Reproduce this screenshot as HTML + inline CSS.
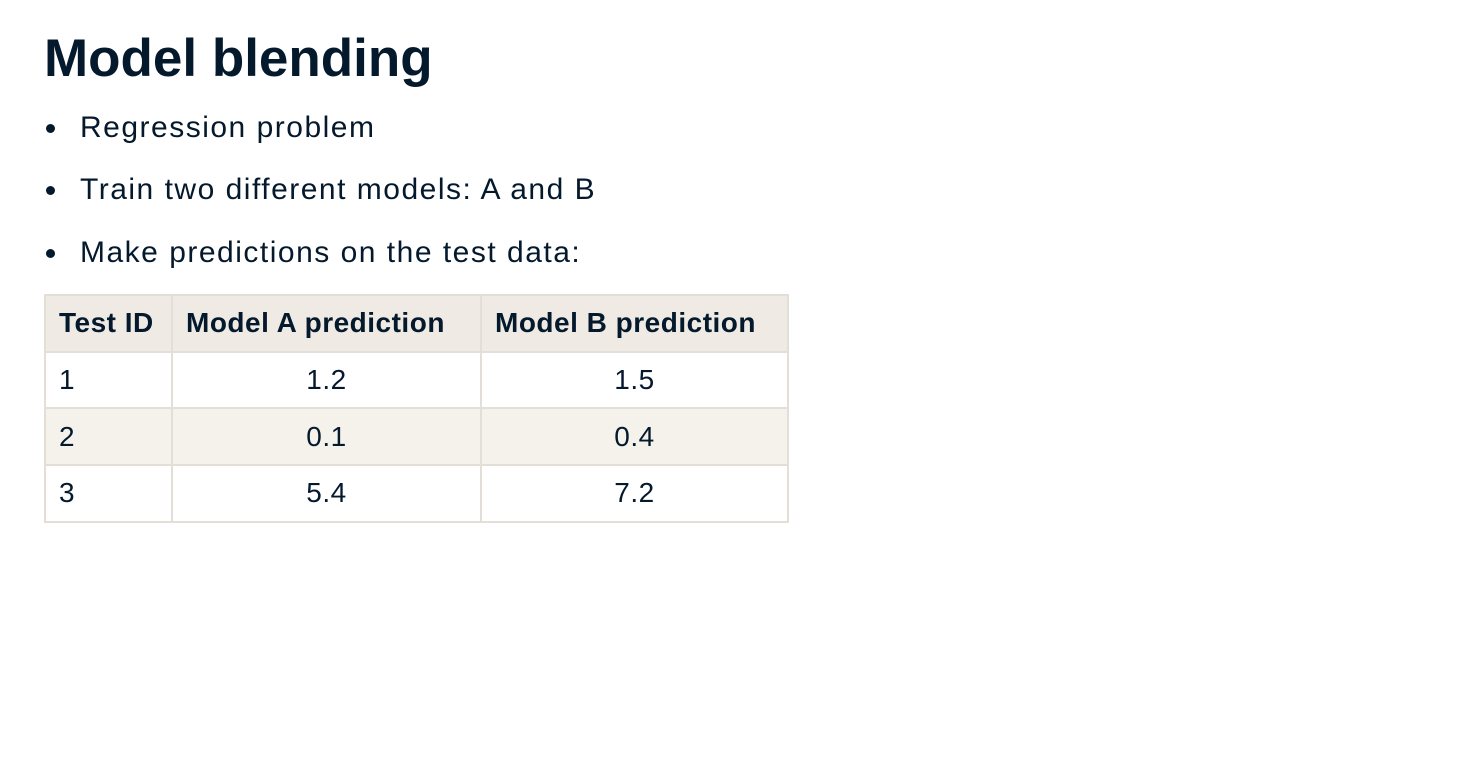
<!DOCTYPE html>
<html><head><meta charset="utf-8"><style>
body{margin:0;width:1480px;height:760px;background:#fff;font-family:"Liberation Sans",sans-serif;color:#05192D;position:relative;overflow:hidden}
h1{position:absolute;left:44px;top:28px;margin:0;font-size:53px;font-weight:bold;letter-spacing:0px}
.b{position:absolute;left:80px;font-size:30px;line-height:34px;letter-spacing:1.5px}
.b:before{content:"";position:absolute;left:-34px;top:13px;width:9px;height:9px;border-radius:50%;background:#05192D}
table{position:absolute;left:44px;top:294px;border-collapse:collapse;font-size:28px;table-layout:fixed}
td,th{border:2px solid #E3DFD8;padding:0 13px;box-sizing:border-box}
tr{height:56.7px}
th{background:#EFEBE4;font-weight:bold;text-align:left;letter-spacing:0.5px}
td{text-align:center;letter-spacing:0.5px}
td:first-child{text-align:left}
tr.alt td{background:#F5F2EC}
</style></head><body>
<h1>Model blending</h1>
<div class="b" style="top:111px">Regression problem</div>
<div class="b" style="top:173px">Train two different models: A and B</div>
<div class="b" style="top:236px">Make predictions on the test data:</div>
<table>
<colgroup><col style="width:127px"><col style="width:309px"><col style="width:307px"></colgroup>
<tr><th>Test ID</th><th>Model A prediction</th><th>Model B prediction</th></tr>
<tr><td>1</td><td>1.2</td><td>1.5</td></tr>
<tr class="alt"><td>2</td><td>0.1</td><td>0.4</td></tr>
<tr><td>3</td><td>5.4</td><td>7.2</td></tr>
</table>
</body></html>
